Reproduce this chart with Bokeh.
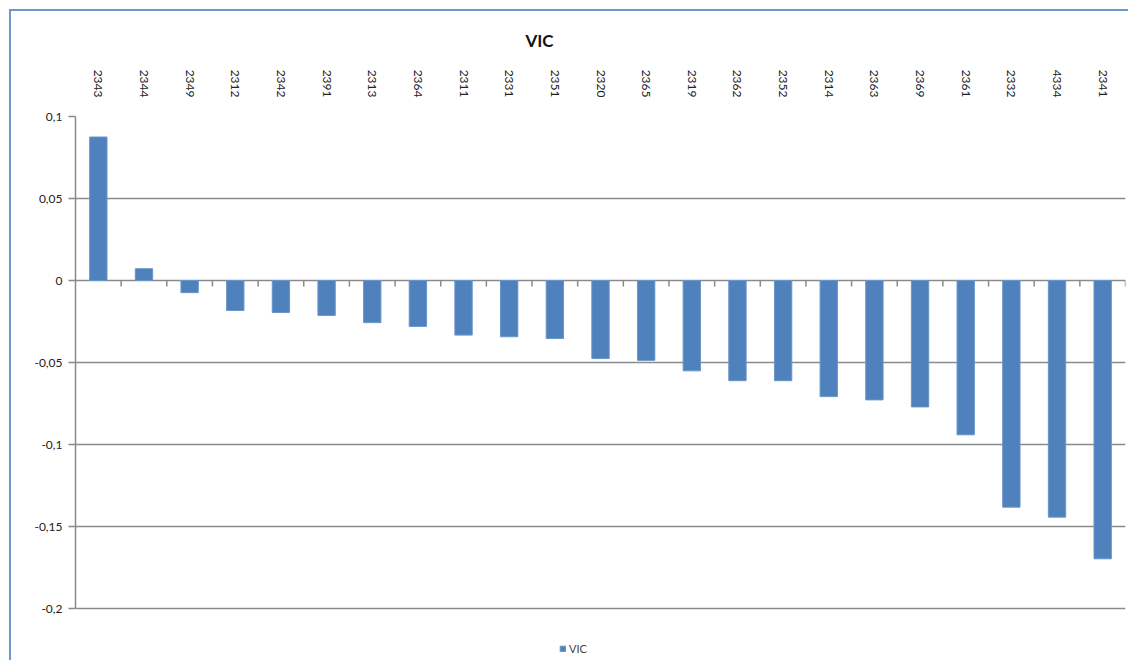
import math
from bokeh.plotting import figure
from bokeh.models import (Range1d, FixedTicker, CustomJSTickFormatter,
                          Legend, LegendItem, Title)
from bokeh.embed import file_html
from bokeh.resources import INLINE

categories = ["2343", "2344", "2349", "2312", "2342", "2391", "2313", "2364", "2311",
              "2331", "2351", "2320", "2365", "2319", "2362", "2352", "2314", "2363",
              "2369", "2361", "2332", "4334", "2341"]
values = [0.0875, 0.0072, -0.0074, -0.0183, -0.0195, -0.0213, -0.0257, -0.028, -0.0333,
          -0.0343, -0.0354, -0.0476, -0.0487, -0.0551, -0.0611, -0.0611, -0.0708, -0.0728,
          -0.0771, -0.0941, -0.1382, -0.1443, -0.1697]
series_name = "VIC"
y_ticks = [-0.2, -0.15, -0.1, -0.05, 0, 0.05, 0.1]

n = len(categories)
idx = list(range(n))
FONT = "Lato"
GRID = "#8a8a8a"
BLUE = "#4F81BD"

# layout: value area of 492 px plus a 50 px strip under it for the legend
AREA_PX = 492
LEGEND_PX = 50
span = y_ticks[-1] - y_ticks[0]
y_low = y_ticks[0] - LEGEND_PX * span / AREA_PX

p = figure(output_backend="svg", toolbar_location=None,
           x_range=Range1d(-0.5, n - 0.5), y_range=Range1d(y_low, y_ticks[-1]),
           x_axis_location="above", frame_width=1050, frame_height=AREA_PX + LEGEND_PX,
           min_border_left=64, min_border_right=3, min_border_top=105, min_border_bottom=2,
           styles={"border-top": "2px solid #6f97cf", "border-left": "2px solid #6f97cf",
                   "margin-left": "9px", "margin-top": "9px"})
p.outline_line_color = None

r = p.vbar(x=idx, top=values, bottom=0, width=0.38, fill_color=BLUE, line_color="#6a95c9",
           line_width=1)

# category boundary ticks hanging from the zero line
bounds = [i + 0.5 for i in idx]
p.segment(x0=bounds, y0=[0] * n, x1=bounds, y1=[-0.0037] * n,
          line_color=GRID, line_width=1.5)

# top category axis (labels only)
xa = p.xaxis[0]
xa.ticker = FixedTicker(ticks=idx)
xa.major_label_overrides = {i: c for i, c in zip(idx, categories)}
xa.major_label_orientation = -math.pi / 2
xa.axis_line_color = None
xa.major_tick_line_color = None
xa.minor_tick_line_color = None
xa.major_tick_out = 0
xa.major_label_standoff = 19
xa.major_label_text_font = FONT
xa.major_label_text_font_size = "12px"
xa.major_label_text_color = "#222222"

ya = p.yaxis[0]
ya.bounds = (y_ticks[0], y_ticks[-1])
ya.ticker = FixedTicker(ticks=y_ticks)
ya.formatter = CustomJSTickFormatter(code="""
let s = tick.toFixed(2);
s = s.replace(/0+$/, '').replace(/\\.$/, '');
if (s === '-0') s = '0';
return s.replace('.', ',');
""")
ya.axis_line_color = GRID
ya.axis_line_width = 1.5
ya.major_tick_line_color = GRID
ya.major_tick_line_width = 1.5
ya.major_tick_out = 7
ya.major_tick_in = 0
ya.minor_tick_line_color = None
ya.major_label_standoff = 6
ya.major_label_text_font = FONT
ya.major_label_text_font_size = "12px"
ya.major_label_text_color = "#222222"

p.xgrid.grid_line_color = None
p.ygrid.ticker = FixedTicker(ticks=y_ticks)
p.ygrid.grid_line_color = GRID
p.ygrid.grid_line_width = 1.5

p.add_layout(Title(text=series_name, align="left", offset=450, standoff=28,
                   vertical_align="top", text_font=FONT,
                   text_font_size="17px", text_font_style="bold", text_color="#111111"),
             "above")

legend = Legend(items=[LegendItem(label=series_name, renderers=[r])],
                location=(484, 3), orientation="horizontal",
                glyph_width=7, glyph_height=7, label_text_font=FONT,
                label_text_font_size="11px", label_standoff=3,
                border_line_color=None, background_fill_alpha=0, padding=4, margin=0)
p.add_layout(legend, "center")

open("out.html", "w").write(file_html(p, INLINE))
